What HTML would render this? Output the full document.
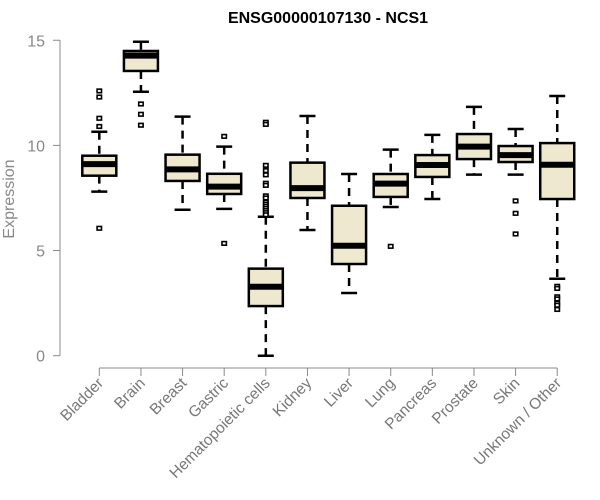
<!DOCTYPE html>
<html><head><meta charset="utf-8"><style>
html,body{margin:0;padding:0;background:#fff;}
svg{display:block;font-family:"Liberation Sans",Arial,sans-serif;}
</style></head><body>
<svg id="chart" width="600" height="500" viewBox="0 0 600 500">
<text x="328" y="23" text-anchor="middle" font-weight="bold" font-size="16" fill="#000">ENSG00000107130 - NCS1</text>
<text transform="translate(14,199) rotate(-90)" text-anchor="middle" font-size="16" fill="#888">Expression</text>
<g id="yaxis"></g>
<g id="xaxis"></g>
<g id="boxes"></g>
</svg>
<script>
const categories=["Bladder","Brain","Breast","Gastric","Hematopoietic cells","Kidney","Liver","Lung","Pancreas","Prostate","Skin","Unknown / Other"];
const q1=[8.56,13.54,8.31,7.69,2.36,7.5,4.36,7.55,8.5,9.35,9.21,7.45];
const medians=[9.11,14.27,8.86,8.04,3.28,7.97,5.23,8.18,9.07,9.94,9.54,9.08];
const q3=[9.51,14.49,9.56,8.65,4.14,9.18,7.13,8.64,9.54,10.54,9.97,10.11];
const whiskerLow=[7.8,12.55,6.94,6.98,0,5.98,2.98,7.07,7.45,8.61,8.61,3.66];
const whiskerHigh=[10.65,14.93,11.37,9.94,6.61,11.4,8.64,9.8,10.5,11.83,10.78,12.35];
const outliers=[[12.59,12.3,11.29,10.9,6.06],[11.97,11.48,10.96],[],[10.43,5.34],[11.1,11.0,9.05,8.8,8.6,8.2,8.1,7.6,7.5,7.3,7.2,7.1,7.0,6.9,6.8,6.7],[],[],[5.2],[],[],[7.36,6.77,5.79],[3.3,3.2,2.8,2.7,2.5,2.4,2.2]];
const yTicks=[0,5,10,15];
const NS="http://www.w3.org/2000/svg";
function y(v){return 355.7-21.03*v;}
function x(i){return 99.3+i*41.63;}
function mk(tag,attrs,parent){const e=document.createElementNS(NS,tag);for(const k in attrs)e.setAttribute(k,attrs[k]);parent.appendChild(e);return e;}
const ya=document.getElementById('yaxis');
const l1=mk('line',{x1:60,x2:60,y1:y(15),y2:y(0),stroke:'#888','stroke-width':1},ya);


yTicks.forEach(t=>{
 const tk=mk('line',{x1:53,x2:60,y1:y(t),y2:y(t),stroke:'#888'},ya);
 
 
 const tx=mk('text',{x:45,y:y(t)+6,'text-anchor':'end','font-size':16,fill:'#888'},ya);
 tx.textContent=t;
 
 
});
const xa=document.getElementById('xaxis');
const l2=mk('line',{x1:x(0),x2:x(categories.length-1),y1:368,y2:368,stroke:'#888'},xa);


const bg=document.getElementById('boxes');
categories.forEach((c,i)=>{
 const cx=x(i);
 const tk=mk('line',{x1:cx,x2:cx,y1:368,y2:376,stroke:'#888'},xa);
 
 
 const tx=mk('text',{x:0,y:0,'text-anchor':'end','font-size':15.5,fill:'#777',transform:`translate(${cx+5},${384}) rotate(-45)`},xa);
 tx.textContent=c;
 
 
 const g=mk('g',{},bg);
 
 
 const hw=17,cw=8;
 mk('line',{x1:cx,x2:cx,y1:y(whiskerHigh[i]),y2:y(q3[i]),stroke:'#000','stroke-width':2.5,'stroke-dasharray':'8,6'},g);
 mk('line',{x1:cx,x2:cx,y1:y(q1[i]),y2:y(whiskerLow[i]),stroke:'#000','stroke-width':2.5,'stroke-dasharray':'8,6'},g);
 mk('line',{x1:cx-cw,x2:cx+cw,y1:y(whiskerHigh[i]),y2:y(whiskerHigh[i]),stroke:'#000','stroke-width':2.5},g);
 mk('line',{x1:cx-cw,x2:cx+cw,y1:y(whiskerLow[i]),y2:y(whiskerLow[i]),stroke:'#000','stroke-width':2.5},g);
 mk('rect',{x:cx-hw,y:y(q3[i]),width:2*hw,height:y(q1[i])-y(q3[i]),fill:'#EEE8CF',stroke:'#000','stroke-width':2.5},g);
 mk('line',{x1:cx-hw,x2:cx+hw,y1:y(medians[i]),y2:y(medians[i]),stroke:'#000','stroke-width':6},g);
 outliers[i].forEach(v=>{
  const o=mk('rect',{x:cx-2.2,y:y(v)-1.8,width:4.4,height:3.6,fill:'#fff',stroke:'#000','stroke-width':1.6},g);
  
  
 });
});
</script>
</body></html>
